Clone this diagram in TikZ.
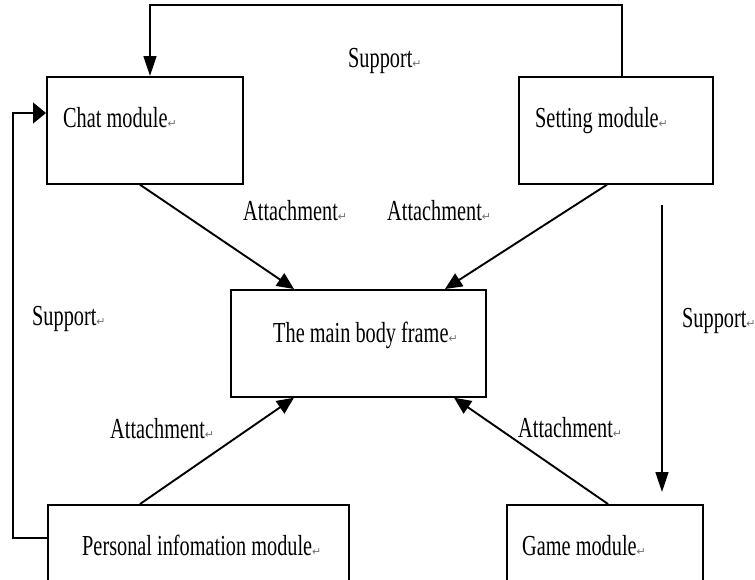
\documentclass[tikz,border=0pt]{standalone}
\usepackage{fontspec}
\setmainfont{Liberation Serif}[FakeStretch=0.7]
\newfontfamily\symfontx{DejaVu Sans}
\usetikzlibrary{arrows.meta,calc}
\newcommand{\retmark}{{\symfontx\fontsize{11}{11}\selectfont\textcolor{black!55}{↵}}}
\begin{document}
\begin{tikzpicture}[x=1pt,y=-1pt,
  box/.style={draw,line width=1.7pt,inner sep=0pt,anchor=north west},
  lbl/.style={anchor=base west,inner sep=0pt,font=\fontsize{29}{34}\selectfont},
  vconn/.style={line width=1.5pt,-{Triangle[length=20pt,width=13pt]}},
  hconn/.style={line width=1.5pt,-{Triangle[length=13pt,width=21pt]}},
  dconn/.style={line width=1.9pt,-{Triangle[length=17pt,width=15pt]}}]
\clip (0,0) rectangle (755,579);
\fill[white] (0,0) rectangle (755,579);
% boxes
\node[box,minimum width=196pt,minimum height=107pt] (chat) at (46,76) {};
\node[box,minimum width=194pt,minimum height=107pt] (setting) at (518,76) {};
\node[box,minimum width=255pt,minimum height=107pt] (main) at (230,289) {};
\node[box,minimum width=301pt,minimum height=120pt] (personal) at (47,504) {};
\node[box,minimum width=196pt,minimum height=120pt] (game) at (506,504) {};
% box texts
\node[lbl] (chatt) at (63,127) {Chat module\retmark};
\node[lbl] (settingt) at (535,127) {Setting module\retmark};
\node[lbl] (maint) at (273,342) {The main body frame\retmark};
\node[lbl] (personalt) at (82,555) {Personal infomation module\retmark};
\node[lbl] (gamet) at (522,555) {Game module\retmark};
% connector labels
\node[lbl] (sup1) at (348,67) {Support\retmark};
\node[lbl] (sup2) at (32,325) {Support\retmark};
\node[lbl] (sup3) at (682,327) {Support\retmark};
\node[lbl] (att1) at (243,220) {Attachment\retmark};
\node[lbl] (att2) at (387,220) {Attachment\retmark};
\node[lbl] (att3) at (110,438) {Attachment\retmark};
\node[lbl] (att4) at (518,437) {Attachment\retmark};
% support connectors
\draw[vconn] ($(setting.north west)+(104,0)$) -- ++(0,-71) -| ($(chat.north west)+(104,0)$);
\draw[hconn] ($(personal.north west)+(0,34)$) -- ++(-34,0) |- ($(chat.north west)+(0,37)$);
\coordinate (rs) at ($(setting.south west)+(144,20)$);
\coordinate (re) at ($(game.north west)+(156,-12)$);
\draw[vconn] (rs) -- (re);
% attachment connectors
\draw[dconn] ($(chat.south west)+(94,0)$) -- ($(main.north west)+(64,0)$);
\draw[dconn] ($(setting.south west)+(89,0)$) -- ($(main.north west)+(215,0)$);
\draw[dconn] ($(personal.north west)+(93,0)$) -- ($(main.south west)+(64,0)$);
\draw[dconn] ($(game.north west)+(102,0)$) -- ($(main.south west)+(224,0)$);
\end{tikzpicture}
\end{document}
